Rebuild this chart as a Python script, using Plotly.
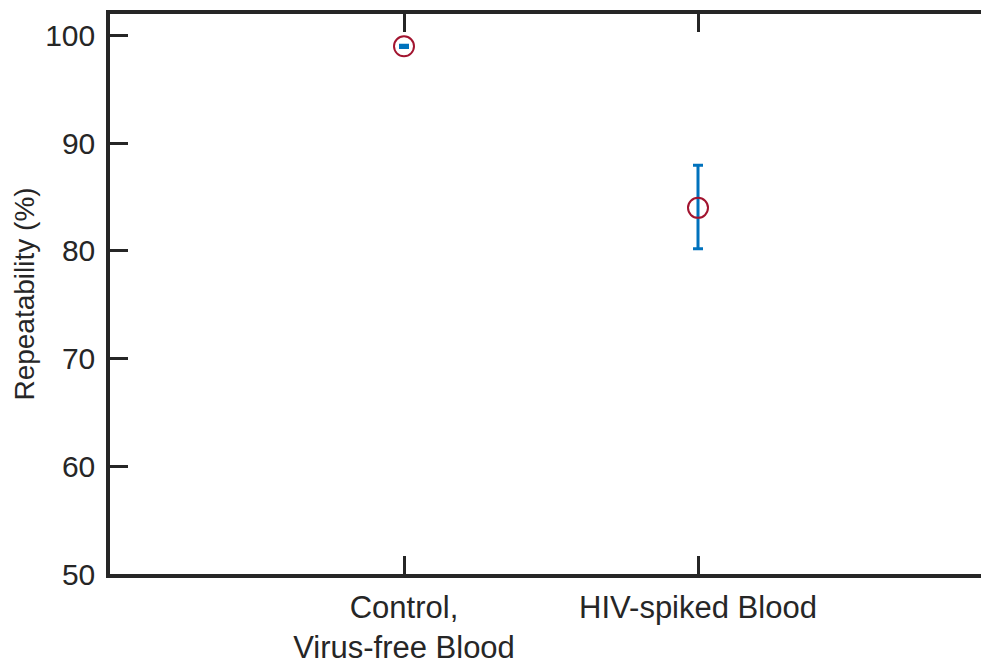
import plotly.graph_objects as go

# sample groups and repeatability values (%)
groups = ["Control,<br>Virus-free Blood", "HIV-spiked Blood"]
repeatability = [99.0, 84.0]
err_plus = [0.1, 3.95]
err_minus = [0.1, 3.8]
yticks = [50, 60, 70, 80, 90, 100]

axis_col = "#262626"
fam = "Liberation Sans, Arial, sans-serif"
xtick_font = dict(family=fam, size=31, color=axis_col)
ytick_font = dict(family=fam, size=30, color=axis_col)
label_font = dict(family=fam, size=28, color=axis_col)

fig = go.Figure()
fig.add_trace(go.Scatter(
    x=groups, y=repeatability,
    mode="markers",
    marker=dict(symbol="circle-open", size=20, color="#A2142F", line=dict(width=2, color="#A2142F")),
    error_y=dict(type="data", array=err_plus, arrayminus=err_minus, symmetric=False,
                 color="#0072BD", thickness=3, width=5),
    showlegend=False, hoverinfo="y",
))

fig.update_layout(
    width=981, height=665,
    margin=dict(l=110, r=0, t=14, b=85),
    plot_bgcolor="white", paper_bgcolor="white",
    font=ytick_font,
    xaxis=dict(
        type="category", range=[-1, 871 / 294 - 1],
        showline=True, linewidth=3.5, linecolor=axis_col, mirror="ticks",
        ticks="inside", ticklen=18, tickwidth=3, tickcolor=axis_col,
        ticklabelstandoff=3,
        showgrid=False, zeroline=False, tickfont=xtick_font,
    ),
    yaxis=dict(
        range=[50, 102], tickvals=yticks,
        title=dict(text="Repeatability (%)", font=label_font, standoff=3),
        showline=True, linewidth=3.5, linecolor=axis_col,
        ticks="inside", ticklen=18, tickwidth=3, tickcolor=axis_col,
        ticklabelstandoff=5,
        showgrid=False, zeroline=False, tickfont=ytick_font,
    ),
    yaxis2=dict(
        overlaying="y", side="right", range=[50, 102], tickvals=yticks,
        ticks="inside", ticklen=11, tickwidth=3, tickcolor=axis_col,
        showticklabels=False, showline=False, showgrid=False, zeroline=False,
    ),
)

# drop the default page margin so the figure fills the window
fig.write_html("out.html", config={"displayModeBar": False},
               post_script="document.body.style.margin='0';document.body.style.overflow='hidden';")
